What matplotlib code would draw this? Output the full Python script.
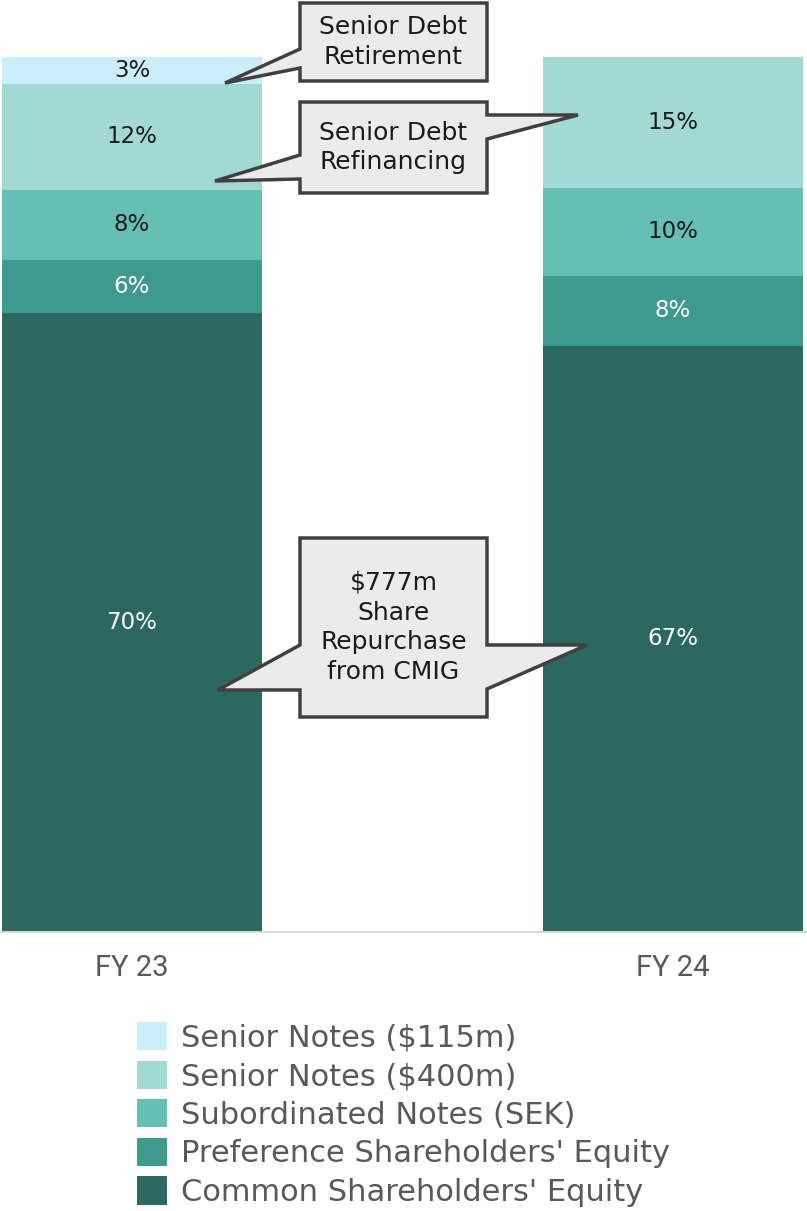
import matplotlib
matplotlib.use("Agg")
import matplotlib.pyplot as plt
from matplotlib.patches import Polygon, Patch

plt.rcParams['font.family'] = ['DejaVu Sans']

# capital structure split, % of total
years = ["FY 23", "FY 24"]
senior_115 = [3, 0]
senior_400 = [12, 15]
subordinated = [8, 10]
preference = [6, 8]
common = [70, 67]

series = [
    ("Common Shareholders' Equity", common, "#2B6860", "white"),
    ("Preference Shareholders' Equity", preference, "#3F9A8E", "white"),
    ("Subordinated Notes (SEK)", subordinated, "#66BFB4", "#1a1a1a"),
    ("Senior Notes ($400m)", senior_400, "#A3D9D3", "#1a1a1a"),
    ("Senior Notes ($115m)", senior_115, "#CCEEFC", "#1a1a1a"),
]

# 100% stacked: each bar is scaled to its own total
totals = [sum(s[1][i] for s in series) for i in range(len(years))]

W, H = 807, 1211
fig = plt.figure(figsize=(W / 100, H / 100), dpi=100)
ax = fig.add_axes([0, (H - 932) / H, 1, 875 / H])

x = [0, 1]
bottoms = [0, 0]
for name, vals, color, tcolor in series:
    shares = [100 * v / t for v, t in zip(vals, totals)]
    ax.bar(x, shares, width=0.48, bottom=bottoms, color=color, label=name)
    for xi, v, s, b in zip(x, vals, shares, bottoms):
        if v > 0:
            ax.text(xi, b + s / 2, f"{v}%", ha="center", va="center",
                    fontsize=16.5, color=tcolor)
    bottoms = [b + s for b, s in zip(bottoms, shares)]

ax.set_xlim(-132 / 541, 1 + 134 / 541)
ax.set_ylim(0, 100)
ax.set_yticks([])
ax.set_xticks(x)
ax.set_xticklabels(years, family="Roboto", fontsize=21, color="#595959")
ax.tick_params(axis="x", length=0, pad=16)
for s in ["top", "left", "right"]:
    ax.spines[s].set_visible(False)
ax.spines["bottom"].set_color("#D9D9D9")
ax.spines["bottom"].set_linewidth(1.5)


def px(pts):
    return [(a / W, 1 - b / H) for a, b in pts]


# callout boxes with their pointers (pixel layout)
callouts = [
    ("Senior Debt\nRetirement", 300, 3, 487, 81,
     [(300, 68), (225, 83), (300, 49)], []),
    ("Senior Debt\nRefinancing", 300, 102, 487, 193,
     [(300, 179), (215, 181), (300, 155)],
     [(487, 115), (578, 115), (487, 139)]),
    ("$777m\nShare\nRepurchase\nfrom CMIG", 300, 538, 487, 717,
     [(300, 690), (218, 690), (300, 645)],
     [(487, 645), (587, 645), (487, 689)]),
]
for text, x0, y0, x1, y1, left, right in callouts:
    pts = [(x0, y0), (x1, y0)] + right + [(x1, y1), (x0, y1)] + left
    fig.patches.append(Polygon(px(pts), closed=True, transform=fig.transFigure,
                               facecolor="#EBEBEB", edgecolor="#404040",
                               linewidth=2.5, joinstyle="miter"))
    fig.text((x0 + x1) / 2 / W, 1 - (y0 + y1) / 2 / H, text, ha="center",
             va="center", fontsize=18, color="#1a1a1a", linespacing=1.3)

handles = [Patch(facecolor=c, label=n) for n, _, c, _ in reversed(series)]
fig.legend(handles=handles, loc="upper left",
           bbox_to_anchor=(137 / W, 1 - 1022 / H), frameon=False,
           fontsize=22, labelcolor="#595959", borderpad=0, borderaxespad=0,
           handlelength=0.98, handleheight=1.05, handletextpad=0.45,
           labelspacing=0.26)

fig.savefig("out.png", dpi=100)
plt.close(fig)
